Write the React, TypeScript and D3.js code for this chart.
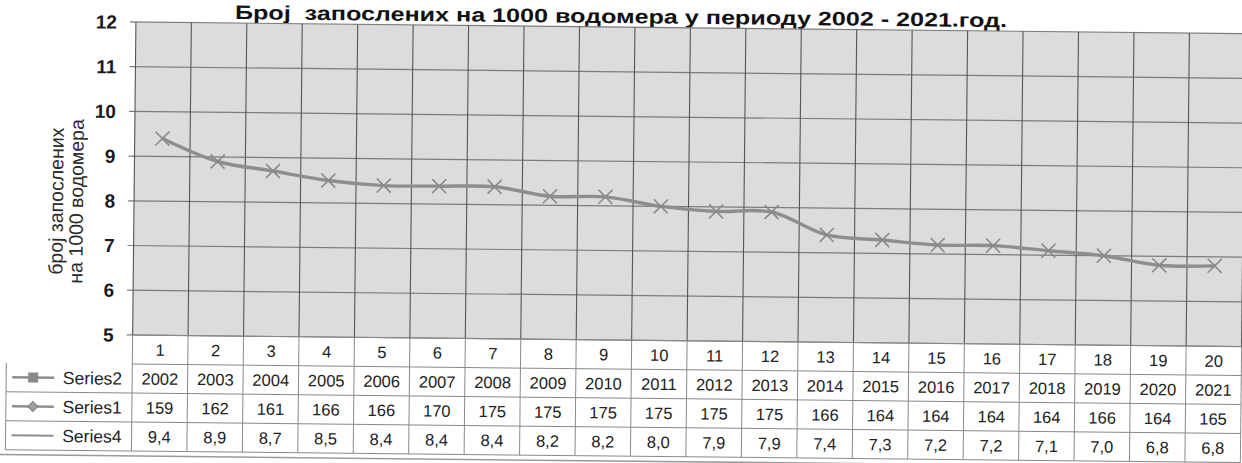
import React, { useRef, useEffect } from 'react'
import { select, scaleBand, scaleLinear, line, curveCatmullRom, format } from 'd3'

const categories = ['1', '2', '3', '4', '5', '6', '7', '8', '9', '10', '11', '12', '13', '14', '15', '16', '17', '18', '19', '20']
const series2 = [2002, 2003, 2004, 2005, 2006, 2007, 2008, 2009, 2010, 2011, 2012, 2013, 2014, 2015, 2016, 2017, 2018, 2019, 2020, 2021]
const series1 = [159, 162, 161, 166, 166, 170, 175, 175, 175, 175, 175, 175, 166, 164, 164, 164, 164, 166, 164, 165]
const series4 = [9.4, 8.9, 8.7, 8.5, 8.4, 8.4, 8.4, 8.2, 8.2, 8.0, 7.9, 7.9, 7.4, 7.3, 7.2, 7.2, 7.1, 7.0, 6.8, 6.8]
const yTicks = [5, 6, 7, 8, 9, 10, 11, 12]
const rowNames = ['Series2', 'Series1', 'Series4']

const title = 'Број  запослених на 1000 водомера у периоду 2002 - 2021.год.'
const yTitle = ['број запослених', 'на 1000 водомера']

const FONT = '"Liberation Sans", Arial, sans-serif'

function App() {
  const ref = useRef<SVGSVGElement>(null)

  useEffect(() => {
    const svg = select(ref.current)
    svg.selectAll('*').remove()

    const width = 1242
    const plotLeft = 133, plotRight = 1242, plotTop = 22, plotBottom = 335
    const tableLeft = 7, tableBottom = 451

    const xScale = scaleBand<string>().domain(categories).range([plotLeft, plotRight])
    const yScale = scaleLinear().domain([5, 12]).range([plotBottom, plotTop])
    const rowScale = scaleBand<string>().domain(['header', ...rowNames]).range([plotBottom, tableBottom])

    // scan is slightly tilted, right side sits lower
    const g = svg.append('g').attr('transform', 'rotate(0.6 133 300)')

    // title
    g.append('text')
      .attr('x', 618).attr('y', 18)
      .attr('text-anchor', 'middle')
      .attr('textLength', 772).attr('lengthAdjust', 'spacingAndGlyphs')
      .style('white-space', 'pre')
      .attr('font-family', FONT).attr('font-weight', 'bold').attr('font-size', 19.5)
      .attr('fill', '#111')
      .text(title)

    // plot area
    g.append('rect')
      .attr('x', plotLeft).attr('y', plotTop)
      .attr('width', plotRight - plotLeft).attr('height', plotBottom - plotTop)
      .attr('fill', '#dcdcdc')

    g.selectAll('.hgrid').data(yTicks).enter().append('line')
      .attr('x1', plotLeft - 6).attr('x2', plotRight)
      .attr('y1', d => yScale(d)).attr('y2', d => yScale(d))
      .attr('stroke', '#7c7c7c').attr('stroke-width', 1.2)

    const bounds = categories.map(c => xScale(c) as number).concat([plotRight])
    g.selectAll('.vgrid').data(bounds).enter().append('line')
      .attr('x1', d => d).attr('x2', d => d)
      .attr('y1', plotTop).attr('y2', plotBottom)
      .attr('stroke', '#555').attr('stroke-width', 1.1)

    // y axis labels
    g.selectAll('.ylab').data(yTicks).enter().append('text')
      .attr('x', 114).attr('y', d => yScale(d))
      .attr('dy', '0.36em')
      .attr('text-anchor', 'end')
      .attr('font-family', FONT).attr('font-weight', 'bold').attr('font-size', 19)
      .attr('fill', '#1a1a1a')
      .text(d => d)

    g.selectAll('.ytitle').data(yTitle).enter().append('text')
      .attr('transform', (d, i) => `translate(${62 + i * 20},202) rotate(-90)`)
      .attr('text-anchor', 'middle')
      .attr('font-family', FONT).attr('font-size', 19.5)
      .attr('fill', '#2a2a2a')
      .text(d => d)

    // series line
    const cx = (i: number) => (xScale(categories[i]) as number) + xScale.bandwidth() / 2
    const path = line<number>()
      .x((d, i) => cx(i))
      .y(d => yScale(d))
      .curve(curveCatmullRom.alpha(0.5))
    g.append('path')
      .attr('d', path(series4))
      .attr('fill', 'none')
      .attr('stroke', '#8e8e8e').attr('stroke-width', 3.4)

    const m = 7
    const marks = g.selectAll('.mark').data(series4).enter().append('g')
      .attr('transform', (d, i) => `translate(${cx(i)},${yScale(d)})`)
    marks.append('path')
      .attr('d', `M${-m},${-m}L${m},${m}M${-m},${m}L${m},${-m}`)
      .attr('stroke', '#8a8a8a').attr('stroke-width', 1.6)

    // data table
    const rowY = (r: string) => rowScale(r) as number
    const rh = rowScale.bandwidth()
    const borders = '#8a8a8a'

    g.selectAll('.rowline').data(['header', ...rowNames, 'end']).enter().append('line')
      .attr('x1', (d, i) => (i < 2 ? plotLeft : tableLeft)).attr('x2', plotRight)
      .attr('y1', d => (d === 'end' ? tableBottom : rowY(d)))
      .attr('y2', d => (d === 'end' ? tableBottom : rowY(d)))
      .attr('stroke', borders).attr('stroke-width', 1)

    g.selectAll('.colline').data(bounds).enter().append('line')
      .attr('x1', d => d).attr('x2', d => d)
      .attr('y1', plotBottom).attr('y2', tableBottom)
      .attr('stroke', borders).attr('stroke-width', 1)

    g.append('line')
      .attr('x1', tableLeft).attr('x2', tableLeft)
      .attr('y1', rowY('Series2')).attr('y2', tableBottom)
      .attr('stroke', borders).attr('stroke-width', 1)

    const cellText = (sel: any) => sel
      .attr('text-anchor', 'middle')
      .attr('dy', '0.36em')
      .attr('font-family', FONT).attr('font-size', 16.5)
      .attr('fill', '#222')

    g.selectAll('.hdr').data(categories).enter().append('text')
      .attr('x', (d, i) => cx(i)).attr('y', rowY('header') + rh / 2)
      .call(cellText)
      .text(d => d)

    const rows: [string, string[]][] = [
      ['Series2', series2.map(String)],
      ['Series1', series1.map(String)],
      ['Series4', series4.map(v => format('.1f')(v).replace('.', ','))],
    ]
    rows.forEach(([name, vals]) => {
      g.selectAll('.cell-' + name).data(vals).enter().append('text')
        .attr('x', (d, i) => cx(i)).attr('y', rowY(name) + rh / 2)
        .call(cellText)
        .text(d => d)
    })

    // legend keys in the table
    rowNames.forEach(name => {
      const yc = rowY(name) + rh / 2
      const key = g.append('g').attr('transform', `translate(0,${yc})`)
      key.append('line')
        .attr('x1', 13).attr('x2', 55).attr('y1', 0).attr('y2', 0)
        .attr('stroke', '#8e8e8e').attr('stroke-width', name === 'Series4' ? 2 : 2.6)
      if (name === 'Series2') {
        key.append('rect').attr('x', 29).attr('y', -5).attr('width', 10).attr('height', 10)
          .attr('fill', '#8a8a8a')
      } else if (name === 'Series1') {
        key.append('path').attr('d', 'M34,-5L39,0L34,5L29,0Z')
          .attr('fill', '#a0a0a0').attr('stroke', '#808080')
      }
      key.append('text')
        .attr('x', 123).attr('y', 0).attr('dy', '0.36em')
        .attr('text-anchor', 'end')
        .attr('font-family', FONT).attr('font-size', 17.5)
        .attr('fill', '#222')
        .text(name)
    })

    // bottom edge of the page scan
    g.append('line')
      .attr('x1', 0).attr('x2', width).attr('y1', 456).attr('y2', 456)
      .attr('stroke', '#9a9a9a').attr('stroke-width', 1.5)
  }, [])

  return (
    <svg ref={ref} width={1242} height={463}
      style={{ position: 'absolute', left: 0, top: 0, background: '#fff' }} />
  )
}

export default App
